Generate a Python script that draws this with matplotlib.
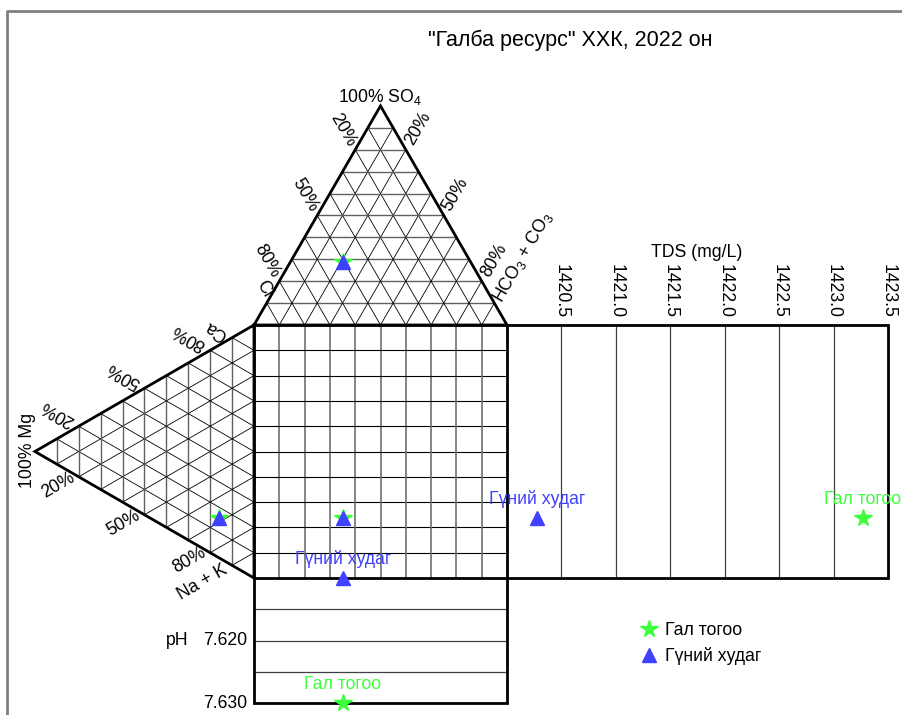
import numpy as np
import matplotlib.pyplot as plt
from matplotlib.lines import Line2D

plt.rcParams['font.family'] = ['Liberation Sans', 'DejaVu Sans']
plt.rcParams['mathtext.fontset'] = 'custom'
plt.rcParams['mathtext.rm'] = 'Liberation Sans'

# Дээжүүд
samples = ['Гал тогоо', 'Гүний худаг']
colors = ['#3cff3c', '#4040ff']
markers = ['*', '^']
msizes = [13, 10]

# Анион, % (SO4, Cl, HCO3+CO3)
so4 = [28.6, 28.6]
cl = [50.5, 50.5]
hco3 = [20.9, 20.9]
# Катион, % (Mg, Ca, Na+K)
mg = [16.0, 16.0]
ca = [15.7, 15.7]
nak = [68.3, 68.3]
# Эрдэсжилт ба pH
tds = [1423.27, 1420.28]
ph = [7.630, 7.610]

tds_ticks = [1420.5, 1421.0, 1421.5, 1422.0, 1422.5, 1423.0, 1423.5]
tds_min, tds_max = 1420.0, 1423.5
ph_lines = [7.615, 7.620, 7.625]
ph_labels = [7.620, 7.630]
ph_min, ph_max = 7.610, 7.630
pct_labels = [20, 50, 80]

# Диаграмын хэмжээс (квадратын тал = 1)
H = np.sqrt(3) / 2
W_TDS = 381 / 253
H_PH = 125 / 253
PX = 253.0


def anion_xy(s, c, h):
    t = s + c + h
    s, c, h = s / t, c / t, h / t
    return h + s / 2, 1 + s * H


def cation_xy(m, a, n):
    t = m + a + n
    m, a, n = m / t, a / t, n / t
    return -m * H, a + m / 2


def tds_x(v):
    return 1 + (v - tds_min) / (tds_max - tds_min) * W_TDS


def ph_y(v):
    return -(v - ph_min) / (ph_max - ph_min) * H_PH


fig = plt.figure(figsize=(9.02, 7.15), dpi=100)
ax = fig.add_axes([0, 0, 1, 1])
ax.set_xlim(-254 / PX, (902 - 254) / PX)
ax.set_ylim((578 - 715) / PX, 578 / PX)
ax.axis('off')

# хүрээ
fig.add_artist(Line2D([7 / 902, 7 / 902, 1], [0, 1 - 11 / 715, 1 - 11 / 715],
                      transform=fig.transFigure, color='#808080', lw=2))

grid_dark = dict(color='black', lw=0.6)
grid_gray = dict(color='#606060', lw=1.0)

# дээд гурвалжин торлол
for k in range(1, 10):
    t = k / 10
    p1, p2 = anion_xy(t, 1 - t, 0), anion_xy(t, 0, 1 - t)
    ax.plot([p1[0], p2[0]], [p1[1], p2[1]], **grid_gray)
    p1, p2 = anion_xy(1 - t, t, 0), anion_xy(0, t, 1 - t)
    ax.plot([p1[0], p2[0]], [p1[1], p2[1]], **grid_dark)
    p1, p2 = anion_xy(1 - t, 0, t), anion_xy(0, 1 - t, t)
    ax.plot([p1[0], p2[0]], [p1[1], p2[1]], **grid_dark)

# зүүн гурвалжин торлол
for k in range(1, 10):
    t = k / 10
    p1, p2 = cation_xy(t, 1 - t, 0), cation_xy(t, 0, 1 - t)
    ax.plot([p1[0], p2[0]], [p1[1], p2[1]], **grid_gray)
    p1, p2 = cation_xy(1 - t, t, 0), cation_xy(0, t, 1 - t)
    ax.plot([p1[0], p2[0]], [p1[1], p2[1]], **grid_dark)
    p1, p2 = cation_xy(1 - t, 0, t), cation_xy(0, 1 - t, t)
    ax.plot([p1[0], p2[0]], [p1[1], p2[1]], **grid_dark)

# квадрат торлол
for k in range(1, 10):
    t = k / 10
    ax.plot([t, t], [0, 1], color='#707070', lw=1.2)
    ax.plot([0, 1], [t, t], color='black', lw=0.8)

# TDS ба pH торлол
for v in tds_ticks[:-1]:
    ax.plot([tds_x(v)] * 2, [0, 1], color='#404040', lw=0.9)
for v in ph_lines:
    ax.plot([0, 1], [ph_y(v)] * 2, color='#404040', lw=0.9)

# гадна хүрээнүүд
out = dict(color='black', lw=2.0, solid_joinstyle='miter', zorder=3)
tri = [anion_xy(0, 1, 0), anion_xy(1, 0, 0), anion_xy(0, 0, 1)]
ax.plot([p[0] for p in tri] + [tri[0][0]], [p[1] for p in tri] + [tri[0][1]], **out)
tri = [cation_xy(0, 1, 0), cation_xy(1, 0, 0), cation_xy(0, 0, 1)]
ax.plot([p[0] for p in tri] + [tri[0][0]], [p[1] for p in tri] + [tri[0][1]], **out)
ax.plot([0, 1, 1, 0, 0], [0, 0, 1, 1, 0], **out)
ax.plot([1, tds_x(tds_max), tds_x(tds_max), 1], [1, 1, 0, 0], **out)
ax.plot([0, 0, 1, 1], [0, ph_y(ph_max), ph_y(ph_max), 0], **out)

fs = 12.7
# хувийн шошго
for p in pct_labels:
    f = p / 100
    x, y = anion_xy(1 - f, f, 0)
    ax.text(x - 12 / PX, y + 20 / PX, f'{p}%', rotation=-60, ha='center', va='center', fontsize=fs)
    x, y = anion_xy(1 - f, 0, f)
    ax.text(x + 12 / PX, y + 21 / PX, f'{p}%', rotation=60, ha='center', va='center', fontsize=fs)
    x, y = cation_xy(1 - f, f, 0)
    ax.text(x - 21 / PX, y + 13 / PX, f'{p}%', rotation=150, ha='center', va='center', fontsize=fs)
    x, y = cation_xy(1 - f, 0, f)
    ax.text(x - 21 / PX, y - 8 / PX, f'{p}%', rotation=30, ha='center', va='center', fontsize=fs)

ax.text(0.498, 1.901, r'100% SO$_\mathregular{4}$', ha='center', va='center', fontsize=fs)
ax.text(0.040, 1.142, 'Cl', rotation=-60, ha='center', va='center', fontsize=fs)
ax.text(1.063, 1.269, r'HCO$_\mathregular{3}$ + CO$_\mathregular{3}$', rotation=60,
        ha='center', va='center', fontsize=fs)
ax.text(-0.897, 0.506, '100% Mg', rotation=90, ha='center', va='center', fontsize=fs)
ax.text(-0.150, 0.980, 'Ca', rotation=150, ha='center', va='center', fontsize=fs)
ax.text(-0.202, -0.016, 'Na + K', rotation=30, ha='center', va='center', fontsize=fs)

# TDS тэнхлэг
ax.text(1.751, 1.285, 'TDS (mg/L)', ha='center', va='center', fontsize=fs)
for v in tds_ticks:
    ax.text(tds_x(v), 1.028, f'{v:.1f}', rotation=-90, ha='center', va='bottom', fontsize=fs)

# pH тэнхлэг
for v in ph_labels:
    ax.text(-0.028, ph_y(v), f'{v:.3f}', ha='right', va='center', fontsize=fs)
ax.text(-0.304, ph_y(ph_labels[0]), 'pH', ha='center', va='center', fontsize=fs)

ax.text(1.249, 2.126, '"Галба ресурс" ХХК, 2022 он', ha='center', va='center', fontsize=15.5)

# цэгүүд
for i in range(len(samples)):
    ax_, ay_ = anion_xy(so4[i], cl[i], hco3[i])
    cx_, cy_ = cation_xy(mg[i], ca[i], nak[i])
    xs = [ax_, cx_, ax_, tds_x(tds[i]), ax_]
    ys = [ay_, cy_, cy_, cy_, ph_y(ph[i])]
    ax.plot(xs, ys, ls='none', marker=markers[i], ms=msizes[i], color=colors[i],
            mec=colors[i], zorder=5 + i, label=samples[i], clip_on=False)
    for px, py in [(tds_x(tds[i]), cy_), (ax_, ph_y(ph[i]))]:
        ax.annotate(samples[i], (px, py), xytext=(0, 13.5), textcoords='offset points',
                    ha='center', va='center', fontsize=fs, color=colors[i], zorder=6)

fig.legend(loc='upper left', bbox_to_anchor=(640 / 902, 1 - 622 / 715), frameon=False,
           fontsize=fs, handlelength=1, handletextpad=0.4, borderpad=0, borderaxespad=0,
           labelspacing=0.45)

plt.savefig('out.png', dpi=100)
